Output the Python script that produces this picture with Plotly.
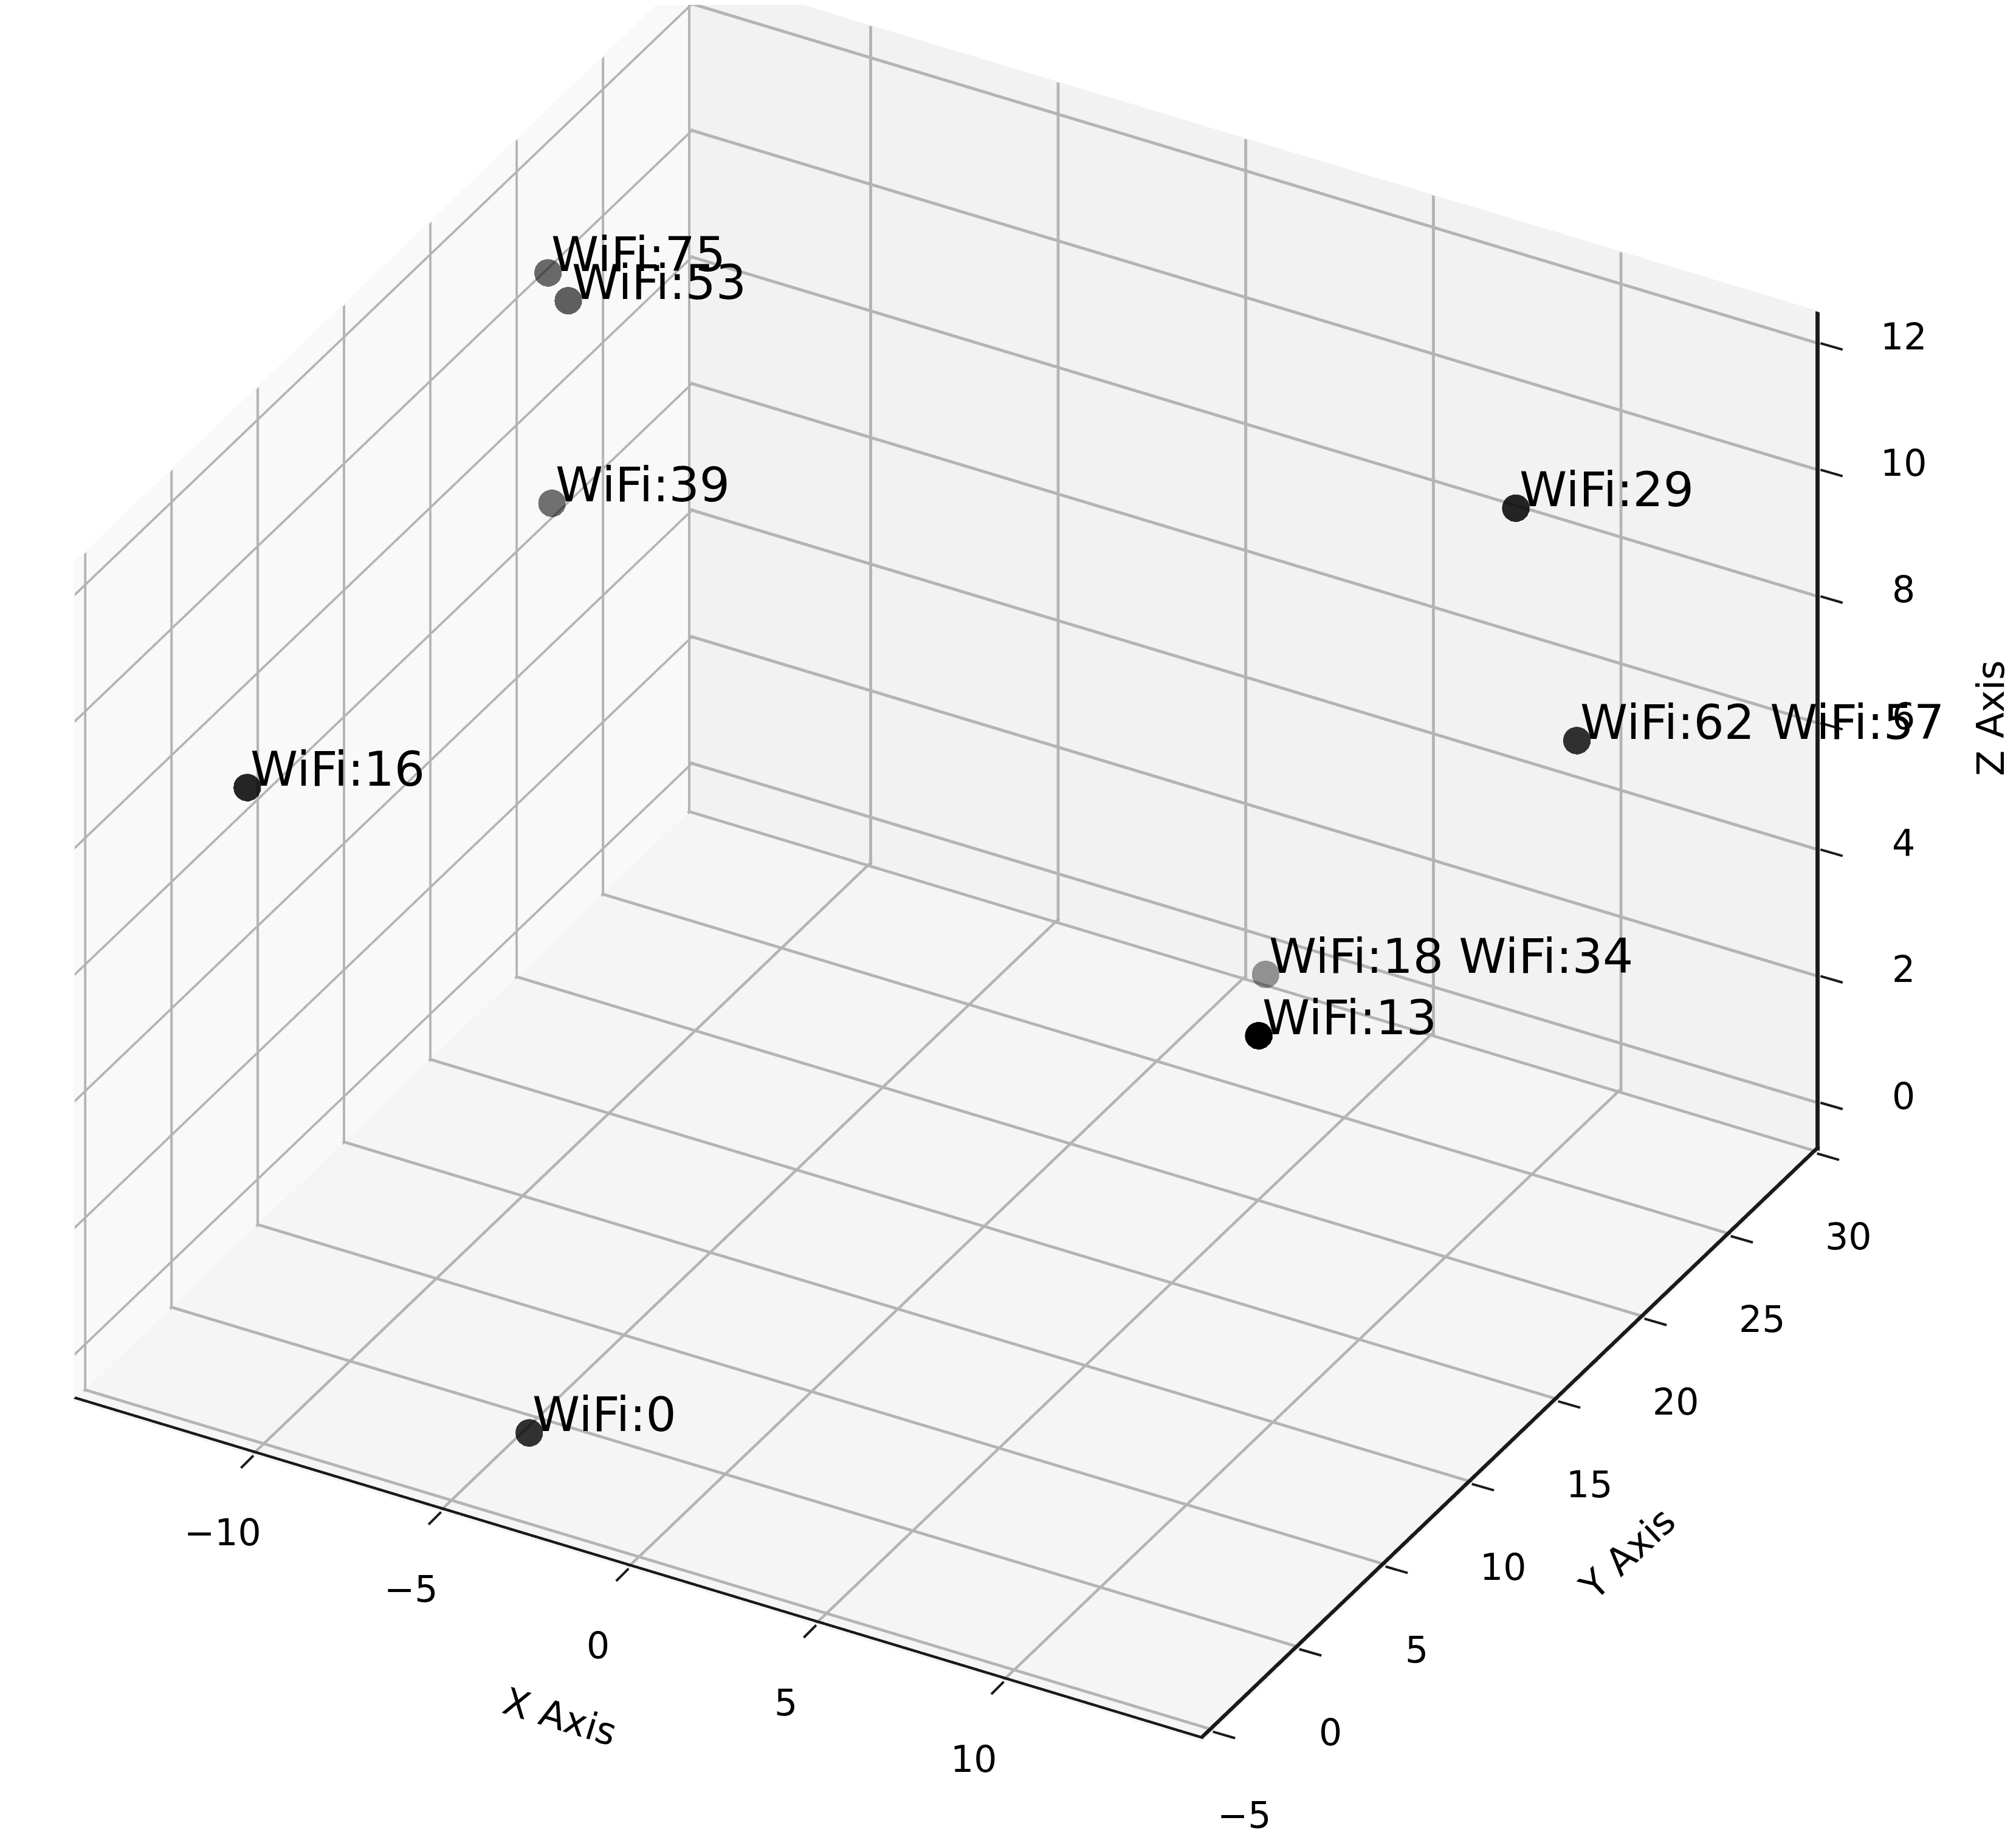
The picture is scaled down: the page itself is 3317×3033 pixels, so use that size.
import math
import plotly.graph_objects as go

labels = ["WiFi:0", "WiFi:13", "WiFi:16", "WiFi:18 WiFi:34", "WiFi:29", "WiFi:39", "WiFi:53", "WiFi:62 WiFi:57", "WiFi:75"]
x_vals = [-3.9, 13.2, -13.9, 4.0, 12.6, -12.4, -11.0, 13.4, -12.0]
y_vals = [-2.9, 2.2, 2.5, 22.6, 18.4, 16.9, 14.8, 20.2, 15.8]
z_vals = [0.0, 8.0, 7.0, 2.0, 12.0, 8.0, 12.0, 8.0, 12.0]
alphas = [0.8, 1.0, 0.85, 0.4, 0.85, 0.55, 0.62, 0.8, 0.58]

x_ticks = [-10, -5, 0, 5, 10]
y_ticks = [-5, 0, 5, 10, 15, 20, 25, 30]
z_ticks = [0, 2, 4, 6, 8, 10, 12]
x_range = [-14.8, 15.3]
y_range = [-5.6, 30.2]
z_range = [-0.75, 12.5]

FONT = "DejaVu Sans"
INK = "#1a1a1a"
GRID = "#b4b4b4"
el = math.radians(32.5)
az = math.radians(-60.7)
r = 2.0
zoom = 1.405
center = dict(x=0.0824, y=-0.0006, z=-0.0640)
eye = dict(x=center["x"] + r*math.cos(el)*math.cos(az),
           y=center["y"] + r*math.cos(el)*math.sin(az),
           z=center["z"] + r*math.sin(el))


def tick_text(t):
    return str(t).replace("-", "\u2212")


def axis(ticks, rng, bg):
    return dict(
        title=dict(text=""), range=rng, tickmode="array", tickvals=ticks,
        showticklabels=False, ticks="", showline=False, showgrid=False,
        zeroline=False, showbackground=True, backgroundcolor=bg, showspikes=False,
    )


def note(x, y, z, text, size, dx, dy, xa="center", ya="middle"):
    return dict(x=x, y=y, z=z, text=text, showarrow=False, xanchor=xa, yanchor=ya,
                xshift=dx, yshift=dy, font=dict(family=FONT, size=size, color="black"))


def tick(x, y, z, ax, ay):
    return dict(x=x, y=y, z=z, text="", showarrow=True, arrowhead=0,
                arrowwidth=4, arrowcolor=INK, ax=ax, ay=ay)


xmin, xmax = x_range
ymin, ymax = y_range
zmin, zmax = z_range

scene_notes = []
for t in x_ticks:
    scene_notes.append(note(t, ymin, zmin, tick_text(t), 60, -50, -127))
    scene_notes.append(tick(t, ymin, zmin, -22, 22))
for t in y_ticks:
    scene_notes.append(note(xmax, t, zmin, tick_text(t), 60, 51, -137))
    scene_notes.append(tick(xmax, t, zmin, 38, 11))
for t in z_ticks:
    scene_notes.append(note(xmax, ymax, t, tick_text(t), 60, 137, 11))
    scene_notes.append(tick(xmax, ymax, t, 38, 11))
for lab, xv, yv, zv in zip(labels, x_vals, y_vals, z_vals):
    scene_notes.append(note(xv, yv, zv, lab, 79, 4, -19, "left", "bottom"))

title_notes = [
    dict(x=432/1568, y=1-1332/1434, text="X Axis", textangle=17),
    dict(x=1262/1568, y=1-1205/1434, text="Y Axis", textangle=-43),
    dict(x=1545/1568, y=1-555/1434, text="Z Axis", textangle=-90),
]
for n in title_notes:
    n.update(xref="paper", yref="paper", showarrow=False, xanchor="center", yanchor="middle",
             font=dict(family=FONT, size=62, color="black"))


class Ribbons:
    """Flat strips used as thick lines, because WebGL line widths are capped at 1 px."""
    def __init__(self):
        self.x, self.y, self.z, self.i, self.j, self.k = [], [], [], [], [], []

    def add(self, a, b, w):
        n = len(self.x)
        for p in (a, b, (b[0]+w[0], b[1]+w[1], b[2]+w[2]), (a[0]+w[0], a[1]+w[1], a[2]+w[2])):
            self.x.append(p[0]); self.y.append(p[1]); self.z.append(p[2])
        self.i += [n, n]; self.j += [n+1, n+2]; self.k += [n+2, n+3]

    def trace(self, color):
        return go.Mesh3d(x=self.x, y=self.y, z=self.z, i=self.i, j=self.j, k=self.k, color=color,
                         flatshading=True, hoverinfo="skip",
                         lighting=dict(ambient=1, diffuse=0, specular=0, roughness=1, fresnel=0))


wx, wy, wz = 0.08, 0.14, 0.05
ex, ey, ez = xmin+0.04, ymax-0.04, zmin+0.03
grid = Ribbons()
for t in x_ticks:
    grid.add((t-wx/2, ymin, ez), (t-wx/2, ymax, ez), (wx, 0, 0))
    grid.add((t-wx/2, ey, zmin), (t-wx/2, ey, zmax), (wx, 0, 0))
for t in y_ticks:
    grid.add((xmin, t-wy/2, ez), (xmax, t-wy/2, ez), (0, wy, 0))
    grid.add((ex, t-wy/2, zmin), (ex, t-wy/2, zmax), (0, wy, 0))
for t in z_ticks:
    grid.add((ex, ymin, t-wz/2), (ex, ymax, t-wz/2), (0, 0, wz))
    grid.add((xmin, ey, t-wz/2), (xmax, ey, t-wz/2), (0, 0, wz))

spines = Ribbons()
spines.add((xmin, ymin, ez+0.01), (xmax, ymin, ez+0.01), (0, 0.13, 0))
spines.add((xmax-0.11, ymin, ez+0.01), (xmax-0.11, ymax, ez+0.01), (0.11, 0, 0))
spines.add((xmax-0.11, ey-0.01, zmin), (xmax-0.11, ey-0.01, zmax), (0.11, 0, 0))

fig = go.Figure()
fig.add_trace(grid.trace(GRID))
fig.add_trace(spines.trace(INK))
fig.add_trace(go.Scatter3d(
    x=x_vals, y=y_vals, z=z_vals, mode="markers",
    marker=dict(size=24, color=[f"rgba(0,0,0,{a})" for a in alphas], line=dict(width=0)),
    hoverinfo="skip",
))
fig.update_layout(
    width=3317, height=3033, margin=dict(l=0, r=0, t=0, b=0),
    paper_bgcolor="white", showlegend=False, annotations=title_notes,
    scene=dict(
        domain=dict(x=[0, 1], y=[0, 1]),
        aspectmode="manual", aspectratio=dict(x=zoom, y=0.975*zoom, z=0.768*zoom),
        xaxis=axis(x_ticks, x_range, "#f9f9f9"),
        yaxis=axis(y_ticks, y_range, "#f2f2f2"),
        zaxis=axis(z_ticks, z_range, "#f5f5f5"),
        annotations=scene_notes,
        camera=dict(eye=eye, up=dict(x=0, y=0, z=1), center=center,
                    projection=dict(type="orthographic")),
    ),
)
fig.write_html("out.html")
